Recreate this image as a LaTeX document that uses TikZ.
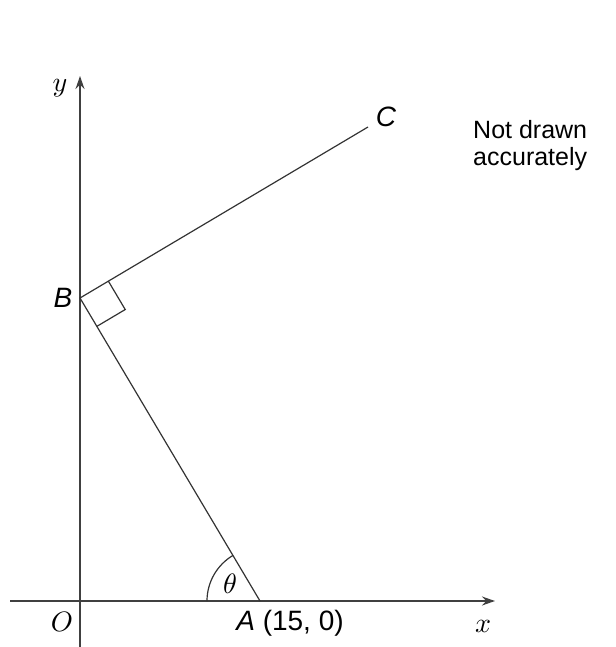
\documentclass[tikz,border=0pt]{standalone}
\usepackage{fontspec}
\newfontfamily\arial{Liberation Sans}
\usetikzlibrary{arrows.meta,calc}
\begin{document}
\begin{tikzpicture}[x=1pt,y=-1pt,
  axis/.style={draw=black!75,line width=1.4pt,-{Stealth[length=13pt,width=9pt]}},
  seg/.style={draw=black!80,line width=1.2pt},
  sanslab/.style={font=\arial\itshape\fontsize{28}{30}\selectfont,inner sep=0pt},
  mathlab/.style={scale=2.8,inner sep=0pt},
  note/.style={font=\arial\fontsize{25}{26}\selectfont,inner sep=0pt,anchor=base west}]
\useasboundingbox (0,0) rectangle (615,647);
\coordinate (O) at (80,601);
\coordinate (A) at (260,601);
\coordinate (B) at (80,298);
\coordinate (C) at (368,127);
\coordinate (xs) at (10,601);
\coordinate (xe) at (495,601);
\coordinate (ys) at (80,647);
\coordinate (ye) at (80,76);
\draw[axis] (xs) -- (xe);
\draw[axis] (ys) -- (ye);
\draw[seg] (A) -- (B) -- (C);
% right angle marker
\coordinate (u) at ($(B)!33pt!(C)$);
\coordinate (v) at ($(B)!33pt!(A)$);
\draw[seg] (u) -- ($(u)+(v)-(B)$) -- (v);
% angle arc
\draw[seg] ($(A)+(-53,0)$) arc[start angle=180,end angle=239.3,radius=53];
\node[mathlab] (th) at (230,584) {$\theta$};
\node[mathlab] (ol) at (62,622) {$O$};
\node[mathlab] (xl) at (483,626) {$x$};
\node[mathlab] (yl) at (60,88) {$y$};
\node[sanslab] (cl) at (386,117) {C};
\node[sanslab] (bl) at (63,298) {B};
\node[font=\arial\fontsize{28}{30}\selectfont,inner sep=0pt] (al) at (290,623) {\textit{A} (15, 0)};
\node[note] (nt1) at (473,139) {Not drawn};
\node[note] (nt2) at (473,165) {accurately};
\end{tikzpicture}
\end{document}
